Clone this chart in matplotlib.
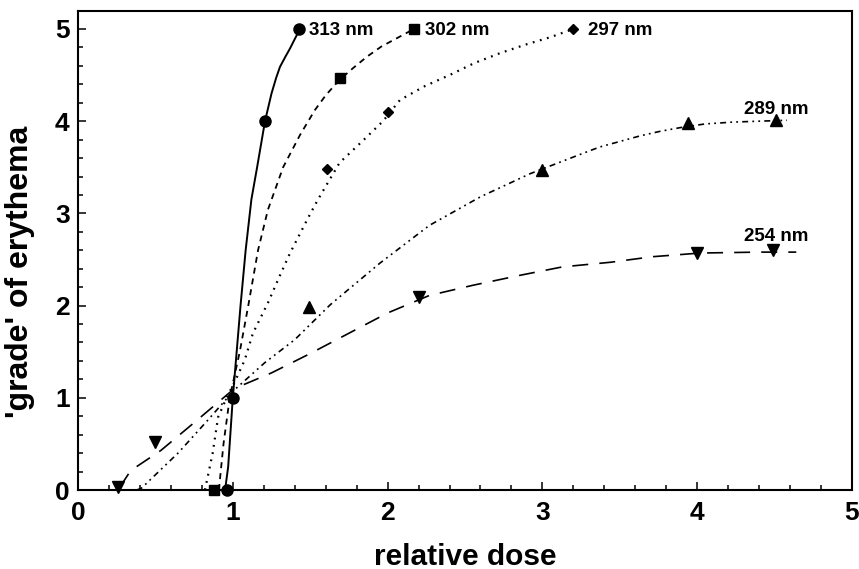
import matplotlib
matplotlib.use("Agg")
import matplotlib.pyplot as plt
from matplotlib.ticker import MultipleLocator

plt.rcParams['font.family'] = ['Liberation Sans', 'DejaVu Sans']
plt.rcParams['font.weight'] = 'bold'
plt.rcParams['lines.scale_dashes'] = False

# ---- measured points (markers) ----
x313 = [0.96, 1.00, 1.21, 1.43]
y313 = [0.00, 1.00, 4.00, 5.00]
x302 = [0.88, 1.69, 2.17]
y302 = [0.00, 4.47, 5.00]
x297 = [1.61, 2.00, 3.20]
y297 = [3.48, 4.10, 5.00]
x289 = [1.49, 3.00, 3.94, 4.51]
y289 = [1.98, 3.47, 3.98, 4.01]
x254 = [0.26, 0.50, 2.20, 4.00, 4.49]
y254 = [0.03, 0.52, 2.09, 2.57, 2.60]

# ---- fitted curves ----
c313_x = [0.95, 0.97, 0.98, 1.00, 1.03, 1.05, 1.083, 1.12, 1.157, 1.208, 1.25, 1.28, 1.305, 1.34, 1.37, 1.40, 1.434]
c313_y = [0.00, 0.25, 0.50, 1.00, 1.60, 2.00, 2.60, 3.15, 3.50, 4.00, 4.30, 4.47, 4.59, 4.70, 4.79, 4.89, 5.00]
c302_x = [0.91, 0.94, 0.98, 1.045, 1.10, 1.163, 1.227, 1.325, 1.434, 1.53, 1.60, 1.69, 1.78, 1.867, 1.96, 2.06, 2.17]
c302_y = [0.00, 0.50, 1.00, 1.50, 2.00, 2.60, 3.04, 3.50, 3.85, 4.12, 4.28, 4.45, 4.58, 4.70, 4.81, 4.90, 5.00]
c297_x = [0.82, 0.87, 0.905, 0.96, 1.02, 1.077, 1.13, 1.227, 1.30, 1.37, 1.486, 1.55, 1.69, 1.835, 1.97, 2.08, 2.24, 2.40, 2.56, 2.73, 2.89, 3.05, 3.20]
c297_y = [0.00, 0.40, 0.79, 1.00, 1.20, 1.41, 1.70, 2.03, 2.31, 2.57, 2.95, 3.15, 3.55, 3.78, 4.00, 4.23, 4.38, 4.50, 4.63, 4.74, 4.83, 4.91, 5.00]
c289_x = [0.38, 0.41, 0.646, 0.84, 1.01, 1.206, 1.40, 1.63, 1.95, 2.27, 2.60, 2.92, 3.26, 3.37, 3.50, 3.63, 3.76, 3.89, 4.05, 4.23, 4.40, 4.58]
c289_y = [0.00, 0.02, 0.40, 0.76, 1.085, 1.38, 1.63, 2.01, 2.46, 2.87, 3.18, 3.43, 3.65, 3.72, 3.78, 3.84, 3.89, 3.93, 3.97, 3.99, 4.00, 4.01]
c254_x = [0.27, 0.34, 0.536, 0.75, 1.01, 1.25, 1.50, 2.00, 2.27, 2.55, 2.86, 3.13, 3.44, 3.71, 4.02, 4.40, 4.64]
c254_y = [0.03, 0.21, 0.43, 0.73, 1.10, 1.27, 1.48, 1.92, 2.11, 2.22, 2.33, 2.42, 2.47, 2.53, 2.57, 2.58, 2.58]

labels = ['313 nm', '302 nm', '297 nm', '289 nm', '254 nm']
label_x = [1.49, 2.24, 3.295, 4.30, 4.30]
label_y = [4.98, 4.98, 4.98, 4.13, 2.75]

x_ticks = [0, 1, 2, 3, 4, 5]
y_ticks = [0, 1, 2, 3, 4, 5]

fig = plt.figure(figsize=(8.59, 5.69), dpi=100)
ax = fig.add_axes([78/859, 1-490/569, 774/859, 479/569])

lw = 1.2
ax.plot(c313_x, c313_y, color='black', lw=1.4, ls='-')
ax.plot(c302_x, c302_y, color='black', lw=1.3, dashes=(4.3, 3.6))
ax.plot(c297_x, c297_y, color='black', lw=1.6, dashes=(1.3, 4.0))
ax.plot(c289_x, c289_y, color='black', lw=lw, dashes=(4.3, 3.0, 1.3, 3.0, 1.3, 3.0))
ax.plot(c254_x, c254_y, color='black', lw=lw, dashes=(11.5, 8.0))

ax.plot(x313, y313, 'o', color='black', ms=8, clip_on=False, zorder=5)
ax.plot(x302, y302, 's', color='black', ms=7, clip_on=False, zorder=5)
ax.plot(x297, y297, 'D', color='black', ms=5.5, clip_on=False, zorder=5)
ax.plot(x289, y289, '^', color='black', ms=8, clip_on=False, zorder=5)
ax.plot(x254, y254, 'v', color='black', ms=8, clip_on=False, zorder=5)

for t, xx, yy in zip(labels, label_x, label_y):
    ax.text(xx, yy, t, fontsize=13.5, fontweight='bold', va='center', ha='left')

ax.set_xlim(0, 5)
ax.set_ylim(0, 5.195)
ax.set_xticks(x_ticks)
ax.set_yticks(y_ticks)
ax.xaxis.set_minor_locator(MultipleLocator(0.2))
ax.yaxis.set_minor_locator(MultipleLocator(0.2))
ax.tick_params(which='major', direction='in', length=6, width=1.1, labelsize=19, top=False, right=False)
ax.tick_params(axis='x', which='major', pad=8)
ax.tick_params(axis='y', which='major', pad=6)
ax.tick_params(which='minor', direction='in', length=3.3, width=1.1, top=False, right=False)
for lab in ax.get_xticklabels() + ax.get_yticklabels():
    lab.set_fontweight('bold')
for s in ax.spines.values():
    s.set_linewidth(1.5)

ax.set_xlabel('relative dose', fontsize=21.5, fontweight='bold')
ax.set_ylabel("'grade' of erythema", fontsize=23, fontweight='bold')
ax.xaxis.set_label_coords(0.5, -0.11)
ax.yaxis.set_label_coords(-0.0556, 0.455)

fig.savefig('out.png', dpi=100)
